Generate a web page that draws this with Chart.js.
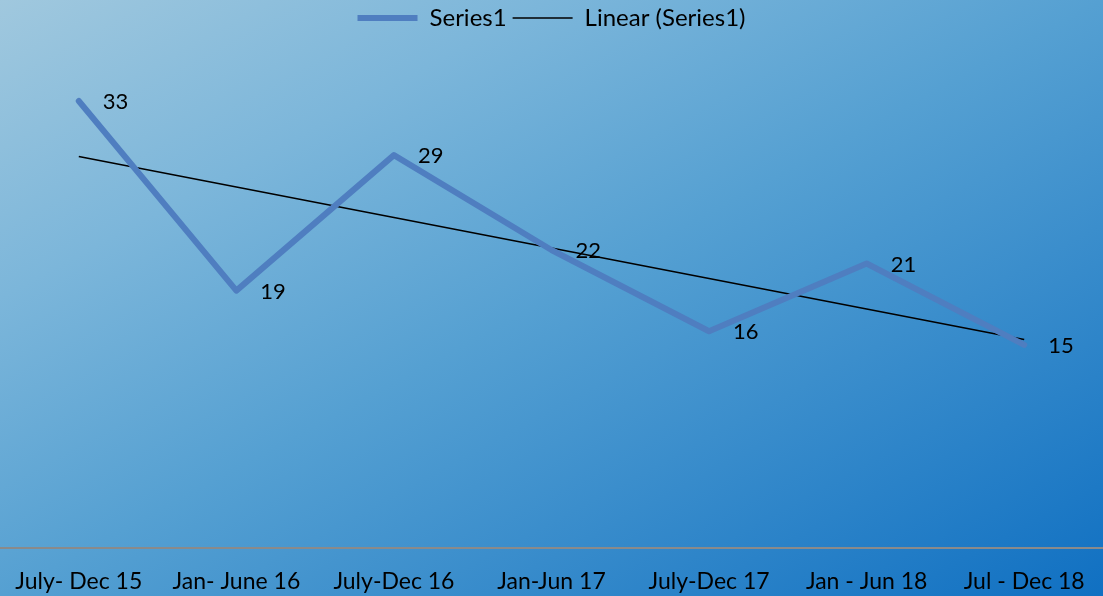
<!DOCTYPE html>
<html>
<head>
<meta charset="utf-8">
<script src="https://cdn.jsdelivr.net/npm/chart.js@4.4.0/dist/chart.umd.min.js"></script>
<style>
  html, body { margin: 0; padding: 0; }
  #wrap { width: 1103px; height: 596px; }
</style>
</head>
<body>
<div id="wrap"><canvas id="chart"></canvas></div>
<script>
const categories = ['July- Dec 15', 'Jan- June 16', 'July-Dec 16', 'Jan-Jun 17', 'July-Dec 17', 'Jan - Jun 18', 'Jul - Dec 18'];
const series1 = [33, 19, 29, 22, 16, 21, 15];

// Excel style linear trendline of series1 (least squares)
function linearTrend(values) {
  let n = values.length, sx = 0, sy = 0, sxy = 0, sxx = 0;
  values.forEach(function (v, i) { sx += i; sy += v; sxy += i * v; sxx += i * i; });
  let slope = (n * sxy - sx * sy) / (n * sxx - sx * sx);
  let icpt = (sy - slope * sx) / n;
  return values.map(function (v, i) { return icpt + slope * i; });
}
const trend = linearTrend(series1);

const FONT = 'Lato, "Open Sans", sans-serif';

const bgPlugin = {
  id: 'bg',
  beforeDraw: function (chart) {
    let ctx = chart.ctx, w = chart.width, h = chart.height;
    ctx.save();
    ctx.scale(w, h);
    let g = ctx.createLinearGradient(0, 0, 1, 1);
    g.addColorStop(0, '#a0c8de');
    g.addColorStop(0.25, '#7cb6da');
    g.addColorStop(0.5, '#55a0d2');
    g.addColorStop(1, '#1070c2');
    ctx.fillStyle = g;
    ctx.fillRect(0, 0, 1, 1);
    ctx.restore();
  }
};

const labelPlugin = {
  id: 'valueLabels',
  afterDatasetsDraw: function (chart) {
    let ctx = chart.ctx;
    let meta = chart.getDatasetMeta(0);
    ctx.save();
    ctx.font = '22px ' + FONT;
    ctx.fillStyle = '#000';
    ctx.textAlign = 'left';
    ctx.textBaseline = 'middle';
    meta.data.forEach(function (pt, i) {
      ctx.fillText(String(series1[i]), pt.x + 24, pt.y + 1);
    });
    ctx.restore();
  }
};

new Chart(document.getElementById('chart'), {
  type: 'line',
  data: {
    labels: categories,
    datasets: [
      {
        label: 'Series1',
        data: series1,
        borderColor: '#4f7ec0',
        backgroundColor: '#4f7ec0',
        borderWidth: 6,
        borderCapStyle: 'round',
        borderJoinStyle: 'round',
        pointRadius: 0,
        tension: 0
      },
      {
        label: 'Linear (Series1)',
        data: trend,
        borderColor: '#000',
        backgroundColor: '#000',
        borderWidth: 1.5,
        pointRadius: 0,
        tension: 0
      }
    ]
  },
  options: {
    responsive: true,
    maintainAspectRatio: false,
    animation: false,
    layout: { padding: 0 },
    plugins: {
      tooltip: { enabled: false },
      legend: {
        position: 'top',
        labels: {
          usePointStyle: true,
          pointStyle: 'line',
          pointStyleWidth: 60,
          color: '#000',
          font: { family: FONT, size: 24 },
          padding: 6
        }
      }
    },
    scales: {
      x: {
        offset: true,
        grid: { display: false, drawTicks: false },
        border: { display: true, color: '#8a8a8a', width: 2 },
        ticks: {
          color: '#000',
          font: { family: FONT, size: 23 },
          padding: 20,
          maxRotation: 0,
          autoSkip: false
        },
        afterFit: function (scale) {
          scale.height = 48;
          scale.paddingLeft = 0;
          scale.paddingRight = 0;
        }
      },
      y: {
        display: false,
        min: 0,
        max: 37.5
      }
    }
  },
  plugins: [bgPlugin, labelPlugin]
});
</script>
</body>
</html>
